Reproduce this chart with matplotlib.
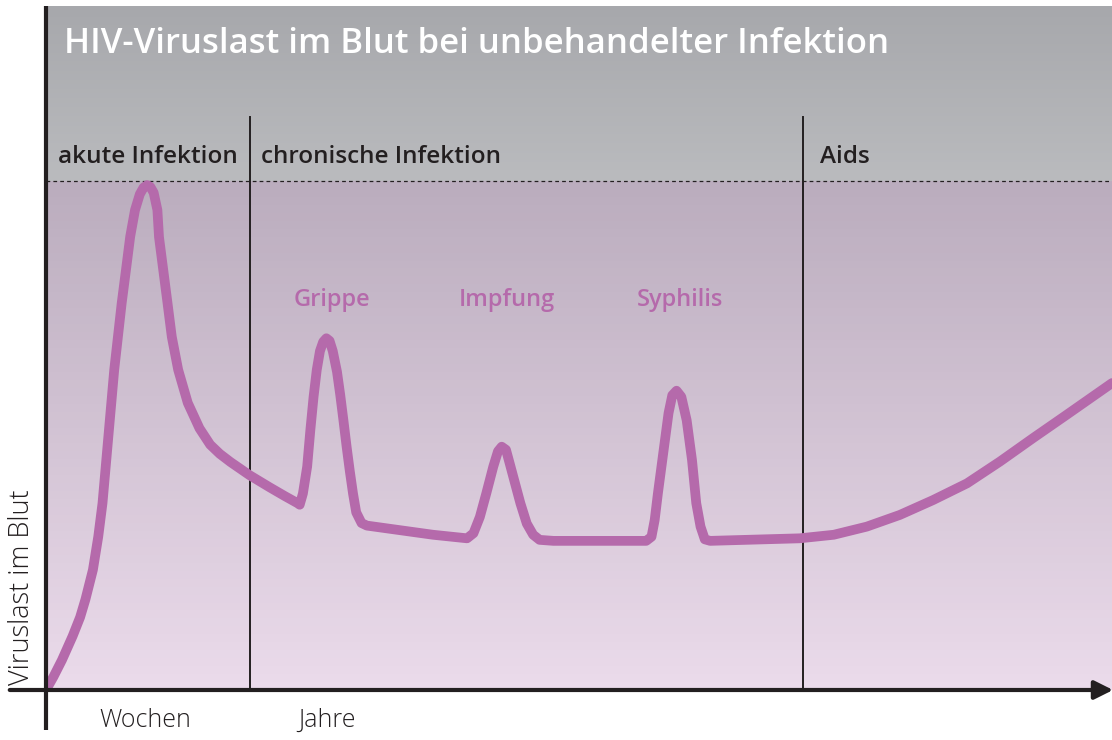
import numpy as np
import matplotlib
matplotlib.use("Agg")
from matplotlib import pyplot as plt

plt.rcParams['font.family'] = ['Open Sans', 'DejaVu Sans']

# Viral load curve (time 0..100, load 0..100 = dashed max)
t_curve = [0.0, 0.7, 1.5, 2.5, 3.2, 3.7, 4.4, 4.9, 5.3, 5.85, 6.4, 7.1, 7.5, 7.9, 8.35, 8.8,
           9.15, 9.5, 9.8, 10.1, 10.45, 10.6, 11.0, 11.4, 11.8, 12.4, 13.3, 14.4, 15.4,
           16.3, 17.3, 19.1, 21.0, 22.4, 23.6,
           23.8, 24.1, 24.5, 24.8, 25.1, 25.4, 25.7, 26.0, 26.3, 26.6, 26.9, 27.3, 27.6,
           27.9, 28.2, 28.5, 28.8, 29.1, 29.6, 30.1, 33.2, 36.3, 39.5,
           40.1, 40.7, 41.3, 41.96, 42.4, 42.75, 43.15, 43.5, 44.0, 44.5, 45.1, 45.7,
           46.3, 47.6, 56.3, 56.8, 57.1, 57.4, 57.9, 58.4, 58.75, 59.15, 59.6, 60.1,
           60.6, 61.0, 61.4, 61.8, 62.3, 70.7, 73.9, 77.0, 80.1, 83.2, 86.4, 89.5,
           92.6, 95.7, 100.0]
load_curve = [0.0, 2.6, 5.9, 10.6, 14.3, 17.8, 23.6, 30.1, 36.7, 49.8, 62.9, 76.0, 82.5, 89.1, 94.3, 97.4,
              98.7, 99.2, 98.8, 97.7, 94.3, 89.0, 82.5, 76.0, 69.4, 62.9, 56.4, 51.4, 48.2,
              46.4, 44.8, 42.2, 39.8, 38.1, 36.7,
              36.4, 38.6, 43.9, 51.1, 57.6, 62.9, 66.6, 68.4, 69.1, 68.6, 66.6, 62.5, 58.0,
              53.0, 47.8, 43.0, 38.6, 34.9, 32.8, 32.3, 31.4, 30.5, 29.8,
              30.8, 34.0, 38.6, 43.9, 46.9, 47.8, 47.2, 44.5, 40.6, 36.7, 32.7, 30.5,
              29.5, 29.3, 29.3, 30.1, 33.4, 38.6, 46.5, 54.4, 57.9, 58.8, 57.6, 53.0,
              45.2, 36.7, 32.1, 29.6, 29.3, 29.8, 30.5, 32.1, 34.4, 37.3, 40.6, 44.9,
              49.5, 54.0, 60.3]

phase_names = ["akute Infektion", "chronische Infektion", "Aids"]
phase_starts = [0.0, 19.1, 71.0]

event_names = ["Grippe", "Impfung", "Syphilis"]
event_times = [26.8, 43.2, 59.5]

time_labels = ["Wochen", "Jahre"]
time_label_pos = [9.3, 26.4]

title = "HIV-Viruslast im Blut bei unbehandelter Infektion"
ylabel = "Viruslast im Blut"

curve_color = "#b56aab"
dark = "#231f20"

fig = plt.figure(figsize=(11.12, 7.4), dpi=100)
ax = fig.add_axes([46 / 1112, 50 / 740, 1066 / 1112, 684 / 740])
ymax = 684 / 5.09
ax.axis('off')

# background gradients (row 0 = top)
g = np.linspace(0, 1, 64)[:, None, None]
c_top = np.array([167, 168, 172]) / 255
c_bot = np.array([186, 187, 190]) / 255
ax.imshow(c_top * (1 - g) + c_bot * g, extent=[0, 100, 100, ymax],
          aspect='auto', zorder=0)

p_top = np.array([187, 173, 190]) / 255
p_bot = np.array([235, 219, 235]) / 255
ax.imshow(p_top * (1 - g) + p_bot * g, extent=[0, 100, 0, 100],
          aspect='auto', zorder=0)
ax.set_xlim(0, 100)
ax.set_ylim(0, ymax)

# max line
ax.plot([0, 100], [100, 100], ls=(0, (3, 2.5)), color=dark, lw=0.9, zorder=2)

# phase separators
for x in phase_starts[1:]:
    ax.plot([x, x], [0, 112.6], color=dark, lw=1.4, zorder=2)

label_pad = [1.1, 1.1, 1.6]
for name, x, pad in zip(phase_names, phase_starts, label_pad):
    ax.text(x + pad, 104.8, name, fontsize=17.5, fontweight='semibold', color=dark,
            ha='left', va='center', zorder=3)

ax.text(1.7, 127.0, title, fontsize=25, fontweight='semibold', color='white',
        ha='left', va='center', zorder=3)

# curve
ax.plot(t_curve, load_curve, color=curve_color, lw=7, solid_joinstyle='round',
        solid_capstyle='round', zorder=4)

for name, x in zip(event_names, event_times):
    ax.text(x, 76.6, name, fontsize=17, fontweight='semibold', color=curve_color,
            ha='center', va='center', zorder=3)

# axes with arrow
ax.annotate('', xy=(100.1, 0), xytext=(-3.4, 0),
            arrowprops=dict(arrowstyle='-|>', lw=3, color=dark, mutation_scale=28,
                            shrinkA=0, shrinkB=0), annotation_clip=False, zorder=5)
ax.plot([0, 0], [-7.9, ymax], color=dark, lw=3, clip_on=False, zorder=5,
        solid_capstyle='butt')

for name, x in zip(time_labels, time_label_pos):
    ax.text(x, -5.9, name, fontsize=18, fontweight='light', color=dark,
            ha='center', va='center')

ax.text(-2.25, 20.2, ylabel, fontsize=19.5, fontweight='light', color=dark,
        rotation=90, ha='center', va='center')

fig.savefig("out.png", dpi=100)
